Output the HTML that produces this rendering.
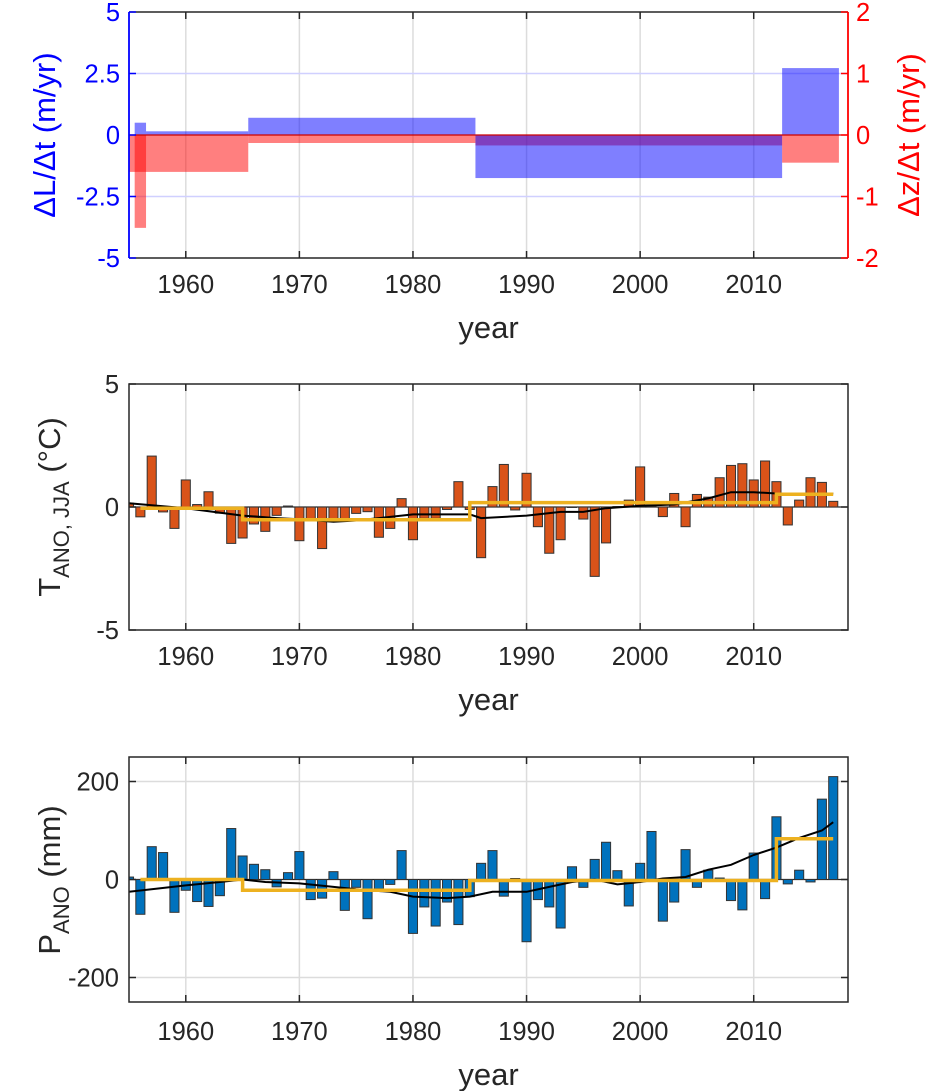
<!DOCTYPE html>
<html><head><meta charset="utf-8">
<style>
html,body{margin:0;padding:0;background:#fff;}
svg{display:block;font-family:"Liberation Sans","DejaVu Sans",sans-serif;}
</style></head>
<body>
<svg id="fig" width="930" height="1091" viewBox="0 0 930 1091" xmlns="http://www.w3.org/2000/svg"></svg>
<script>
// ---------- data ----------
const years = [];
for (let y = 1955; y <= 2017; y++) years.push(y);
const tempAnom = [0.15,-0.4,2.07,-0.2,-0.87,1.1,0.1,0.62,-0.25,-1.48,-1.26,-0.69,-0.99,-0.34,0.04,-1.37,-0.53,-1.69,-0.53,-0.5,-0.26,-0.19,-1.23,-0.87,0.34,-1.33,-0.46,-0.46,-0.1,1.03,-0.1,-2.06,0.83,1.73,-0.12,1.37,-0.8,-1.88,-1.33,-0.02,-0.49,-2.82,-1.46,0.02,0.28,1.63,0.02,-0.39,0.55,-0.8,0.51,0.4,1.19,1.69,1.76,1.1,1.87,1.03,-0.73,0.28,1.19,1.0,0.23];
const precipAnom = [5,-71,67,55,-67,-22,-45,-55,-33,104,48,31,20,-15,14,57,-41,-38,16,-63,-16,-80,-19,-10,59,-110,-56,-95,-46,-92,-35,33,59,-34,2,-127,-41,-56,-99,26,-16,41,76,18,-54,33,98,-85,-46,61,-16,19,3,-43,-62,54,-39,128,-9,19,-5,164,210];
const tSmoothYears = [1955,1960,1965,1968,1970,1973,1975,1977,1980,1983,1985,1986,1990,1993,1995,1997,2000,2003,2006,2008,2010,2012,2015,2017];
const tSmoothVals  = [0.15,-0.05,-0.35,-0.45,-0.5,-0.6,-0.55,-0.45,-0.3,-0.3,-0.3,-0.45,-0.35,-0.2,-0.2,-0.05,0.05,0.1,0.35,0.6,0.6,0.55,0.55,0.55];
const pSmoothYears = [1955,1960,1963,1965,1967,1970,1973,1975,1978,1980,1983,1985,1987,1990,1992,1994,1996,1998,2000,2002,2004,2006,2008,2010,2012,2014,2016,2017];
const pSmoothVals  = [-25,-12,-5,0,-5,-8,-15,-20,-25,-35,-38,-35,-25,-25,-15,-5,0,-10,-5,2,5,20,30,50,65,85,100,117];
const periodStart = [1956,1965,1985,2012];
const periodEnd   = [1965,1985,2012,2017];
const tPeriodMean = [-0.05,-0.52,0.18,0.52];
const pPeriodMean = [0,-22,-2,83];
const dlStart = [1955.5,1956.5,1965.5,1985.5,2012.5];
const dlEnd   = [1956.5,1965.5,1985.5,2012.5,2017.5];
const dlVals  = [0.5,0.15,0.7,-1.75,2.72];
const dzStart = [1955,1955.5,1965.5,1985.5,2012.5];
const dzEnd   = [1965.5,1956.5,1985.5,2012.5,2017.5];
const dzVals  = [-0.6,-1.51,-0.13,-0.17,-0.45];
const xTicks = [1960,1970,1980,1990,2000,2010];
const dlTicks = [5,2.5,0,-2.5,-5];
const dlTickLabels = ["5","2.5","0","-2.5","-5"];
const dzTicks = [2,1,0,-1,-2];
const tTicks = [5,0,-5];
const pTicks = [200,0,-200];

// ---------- helpers ----------
const svg = document.getElementById('fig');
const NS = 'http://www.w3.org/2000/svg';
function mk(tag, attrs, parent, text){
  const e = document.createElementNS(NS, tag);
  for (const k in attrs) e.setAttribute(k, attrs[k]);
  if (text !== undefined) e.textContent = text;
  (parent||svg).appendChild(e);
  return e;
}
const FS = 25.5, TS = 31;
const L = 129, R = 848, X0 = 1955, X1 = 2018.3;
const sx = v => L + (v - X0) / (X1 - X0) * (R - L);
function yScale(top, bot, lo, hi){ return v => bot - (v - lo) / (hi - lo) * (bot - top); }

function xAxis(g, top, bot){
  xTicks.forEach(t=>{
    const gl = mk('line',{x1:sx(t),x2:sx(t),y1:top,y2:bot,stroke:'#dcdcdc','stroke-width':1.5},g);
    
    
  });
}
function xAxisFront(g, top, bot, tickY, labelY){
  xTicks.forEach(t=>{
    const tk = mk('line',{x1:sx(t),x2:sx(t),y1:bot,y2:bot-7,stroke:'#262626','stroke-width':1.5},g);
    
    
    mk('line',{x1:sx(t),x2:sx(t),y1:top,y2:top+7,stroke:'#262626','stroke-width':1.5},g);
    const tl = mk('text',{x:sx(t),y:tickY,'text-anchor':'middle','font-size':FS,fill:'#262626'},g,String(t));
    
    
  });
  const yl = mk('text',{x:(L+R)/2,y:labelY,'text-anchor':'middle','font-size':TS,fill:'#262626'},g,'year');
  
  
}

// ---------- panel 1 ----------
(function(){
  const top=12, bot=258;
  const g = mk('g',{});
  
  
  const yl = yScale(top,bot,-5,5), yr = yScale(top,bot,-2,2);
  xAxis(g,top,bot);
  [2.5,-2.5].forEach(v=>mk('line',{x1:L,x2:R,y1:yl(v),y2:yl(v),stroke:'#d0d0ff','stroke-width':1.5},g));
  dzVals.forEach((v,i)=>{
    const r = mk('rect',{x:sx(dzStart[i]),width:sx(dzEnd[i])-sx(dzStart[i]),y:Math.min(yr(0),yr(v)),height:Math.abs(yr(v)-yr(0)),fill:'#ff0000','fill-opacity':0.5},g);
    
    
  });
  dlVals.forEach((v,i)=>{
    const r = mk('rect',{x:sx(dlStart[i]),width:sx(dlEnd[i])-sx(dlStart[i]),y:Math.min(yl(0),yl(v)),height:Math.abs(yl(v)-yl(0)),fill:'#0000ff','fill-opacity':0.5},g);
    
    
  });
  mk('line',{x1:L,x2:R,y1:yl(0),y2:yl(0),stroke:'#cc0000','stroke-width':1.2},g);
  mk('line',{x1:L,x2:R,y1:top,y2:top,stroke:'#262626','stroke-width':1.5},g);
  mk('line',{x1:L,x2:R,y1:bot,y2:bot,stroke:'#262626','stroke-width':1.5},g);
  mk('line',{x1:L,x2:L,y1:top,y2:bot,stroke:'#0000ff','stroke-width':1.8},g);
  mk('line',{x1:R,x2:R,y1:top,y2:bot,stroke:'#ff0000','stroke-width':1.8},g);
  dlTicks.forEach((v,i)=>{
    mk('line',{x1:L,x2:L+7,y1:yl(v),y2:yl(v),stroke:'#0000ff','stroke-width':1.5},g);
    const t = mk('text',{x:L-9,y:yl(v)+9,'text-anchor':'end','font-size':FS,fill:'#0000ff'},g,dlTickLabels[i]);
    
    
  });
  dzTicks.forEach(v=>{
    mk('line',{x1:R,x2:R-7,y1:yr(v),y2:yr(v),stroke:'#ff0000','stroke-width':1.5},g);
    const t = mk('text',{x:R+8,y:yr(v)+9,'text-anchor':'start','font-size':FS,fill:'#ff0000'},g,String(v));
    
    
  });
  const a = mk('text',{x:0,y:0,'text-anchor':'middle','font-size':TS,fill:'#0000ff',transform:'translate(55,135) rotate(-90)'},g,'ΔL/Δt (m/yr)');
  
  
  const b = mk('text',{x:0,y:0,'text-anchor':'middle','font-size':TS,fill:'#ff0000',transform:'translate(919,135) rotate(-90)'},g,'Δz/Δt (m/yr)');
  
  
  xAxisFront(g,top,bot,293,338);
})();

// ---------- bar panel helper ----------
function barPanel(name, top, bot, lo, hi, vals, color, sYears, sVals, pMeans, ticks, tickY, labelY, gridY){
  const g = mk('g',{});
  
  
  const y = yScale(top,bot,lo,hi);
  xAxis(g,top,bot);
  gridY.forEach(v=>mk('line',{x1:L,x2:R,y1:y(v),y2:y(v),stroke:'#dcdcdc','stroke-width':1.5},g));
  mk('line',{x1:L,x2:R,y1:y(0),y2:y(0),stroke:'#262626','stroke-width':1.2},g);
  const bw = (sx(1)-sx(0))*0.8;
  vals.forEach((v,i)=>{
    const cx = sx(years[i]);
    const x0 = Math.max(L, cx-bw/2), x1 = cx+bw/2;
    const r = mk('rect',{x:x0,width:x1-x0,y:Math.min(y(0),y(v)),height:Math.abs(y(v)-y(0)),fill:color,stroke:'#333','stroke-width':1},g);
    
    
  });
  let d='';
  sYears.forEach((yy,i)=>{ d += (i?'L':'M')+sx(yy).toFixed(1)+','+y(sVals[i]).toFixed(1); });
  const sm = mk('path',{d:d,fill:'none',stroke:'#000','stroke-width':2},g);
  
  
  let p='';
  pMeans.forEach((v,i)=>{ p += (i?'L':'M')+sx(periodStart[i]).toFixed(1)+','+y(v).toFixed(1)+'L'+sx(periodEnd[i]).toFixed(1)+','+y(v).toFixed(1); });
  const st = mk('path',{d:p,fill:'none',stroke:'#EDB120','stroke-width':3.5},g);
  
  
  mk('rect',{x:L,y:top,width:R-L,height:bot-top,fill:'none',stroke:'#262626','stroke-width':1.5},g);
  ticks.forEach(v=>{
    mk('line',{x1:L,x2:L+7,y1:y(v),y2:y(v),stroke:'#262626','stroke-width':1.5},g);
    mk('line',{x1:R,x2:R-7,y1:y(v),y2:y(v),stroke:'#262626','stroke-width':1.5},g);
    const t = mk('text',{x:L-10,y:y(v)+9,'text-anchor':'end','font-size':FS,fill:'#262626'},g,String(v));
    
    
  });
  xAxisFront(g,top,bot,tickY,labelY);
  return g;
}

const g2 = barPanel('temperature-panel',384,630,-5,5,tempAnom,'#D95319',tSmoothYears,tSmoothVals,tPeriodMean,tTicks,665,710,[]);
const t2 = mk('text',{x:0,y:0,'text-anchor':'middle','font-size':TS,fill:'#262626',transform:'translate(60,507) rotate(-90)'},g2);


t2.innerHTML = 'T<tspan font-size="22" dy="9">ANO, JJA</tspan><tspan dy="-9"> (°C)</tspan>';

const g3 = barPanel('precipitation-panel',757,1002,-250,250,precipAnom,'#0072BD',pSmoothYears,pSmoothVals,pPeriodMean,pTicks,1040,1085,[200,-200]);
const t3 = mk('text',{x:0,y:0,'text-anchor':'middle','font-size':TS,fill:'#262626',transform:'translate(60,880) rotate(-90)'},g3);


t3.innerHTML = 'P<tspan font-size="22" dy="9">ANO</tspan><tspan dy="-9"> (mm)</tspan>';
</script>
</body></html>
